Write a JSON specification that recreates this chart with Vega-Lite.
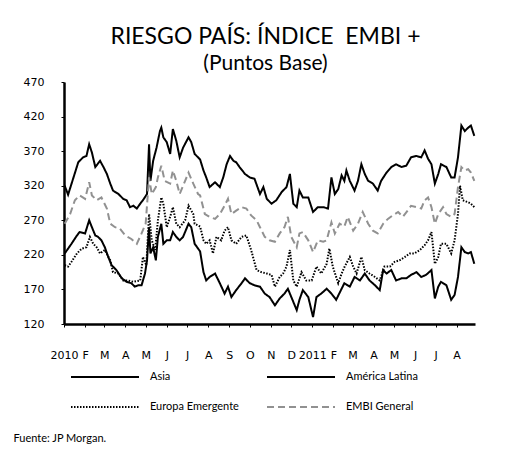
{
  "$schema": "https://vega.github.io/schema/vega-lite/v6.json",
  "width": 411,
  "height": 242,
  "autosize": {"type": "none"},
  "padding": {"left": 64, "top": 82, "right": 45, "bottom": 129},
  "background": "white",
  "title": {
    "text": "RIESGO PAÍS: ÍNDICE \u00a0EMBI +",
    "subtitle": "(Puntos Base)",
    "anchor": "middle",
    "offset": 2,
    "dx": -4,
    "font": "Lato",
    "fontSize": 23,
    "fontWeight": "normal",
    "color": "black",
    "subtitleFont": "Lato",
    "subtitleFontSize": 21,
    "subtitleColor": "black",
    "subtitlePadding": 4
  },
  "datasets": {
    "embi": [
      {"fecha":"2010-01-02","serie":"América Latina","pb":320},
      {"fecha":"2010-01-07","serie":"América Latina","pb":307},
      {"fecha":"2010-01-15","serie":"América Latina","pb":332},
      {"fecha":"2010-01-22","serie":"América Latina","pb":354},
      {"fecha":"2010-01-29","serie":"América Latina","pb":361},
      {"fecha":"2010-02-03","serie":"América Latina","pb":363},
      {"fecha":"2010-02-07","serie":"América Latina","pb":380},
      {"fecha":"2010-02-11","serie":"América Latina","pb":368},
      {"fecha":"2010-02-16","serie":"América Latina","pb":347},
      {"fecha":"2010-02-23","serie":"América Latina","pb":356},
      {"fecha":"2010-02-28","serie":"América Latina","pb":347},
      {"fecha":"2010-03-05","serie":"América Latina","pb":337},
      {"fecha":"2010-03-10","serie":"América Latina","pb":323},
      {"fecha":"2010-03-14","serie":"América Latina","pb":313},
      {"fecha":"2010-03-22","serie":"América Latina","pb":308},
      {"fecha":"2010-03-29","serie":"América Latina","pb":301},
      {"fecha":"2010-04-03","serie":"América Latina","pb":299},
      {"fecha":"2010-04-08","serie":"América Latina","pb":289},
      {"fecha":"2010-04-13","serie":"América Latina","pb":291},
      {"fecha":"2010-04-18","serie":"América Latina","pb":287},
      {"fecha":"2010-04-23","serie":"América Latina","pb":294},
      {"fecha":"2010-04-27","serie":"América Latina","pb":299},
      {"fecha":"2010-05-03","serie":"América Latina","pb":308},
      {"fecha":"2010-05-06","serie":"América Latina","pb":380},
      {"fecha":"2010-05-08","serie":"América Latina","pb":327},
      {"fecha":"2010-05-12","serie":"América Latina","pb":356},
      {"fecha":"2010-05-17","serie":"América Latina","pb":375},
      {"fecha":"2010-05-22","serie":"América Latina","pb":399},
      {"fecha":"2010-05-24","serie":"América Latina","pb":404},
      {"fecha":"2010-05-27","serie":"América Latina","pb":390},
      {"fecha":"2010-06-01","serie":"América Latina","pb":383},
      {"fecha":"2010-06-06","serie":"América Latina","pb":366},
      {"fecha":"2010-06-10","serie":"América Latina","pb":402},
      {"fecha":"2010-06-15","serie":"América Latina","pb":385},
      {"fecha":"2010-06-20","serie":"América Latina","pb":361},
      {"fecha":"2010-06-25","serie":"América Latina","pb":375},
      {"fecha":"2010-07-03","serie":"América Latina","pb":390},
      {"fecha":"2010-07-07","serie":"América Latina","pb":383},
      {"fecha":"2010-07-12","serie":"América Latina","pb":366},
      {"fecha":"2010-07-20","serie":"América Latina","pb":358},
      {"fecha":"2010-07-25","serie":"América Latina","pb":342},
      {"fecha":"2010-07-29","serie":"América Latina","pb":332},
      {"fecha":"2010-08-03","serie":"América Latina","pb":318},
      {"fecha":"2010-08-11","serie":"América Latina","pb":325},
      {"fecha":"2010-08-18","serie":"América Latina","pb":318},
      {"fecha":"2010-08-23","serie":"América Latina","pb":332},
      {"fecha":"2010-08-28","serie":"América Latina","pb":351},
      {"fecha":"2010-09-02","serie":"América Latina","pb":363},
      {"fecha":"2010-09-07","serie":"América Latina","pb":356},
      {"fecha":"2010-09-11","serie":"América Latina","pb":354},
      {"fecha":"2010-09-16","serie":"América Latina","pb":347},
      {"fecha":"2010-09-24","serie":"América Latina","pb":337},
      {"fecha":"2010-10-01","serie":"América Latina","pb":332},
      {"fecha":"2010-10-08","serie":"América Latina","pb":330},
      {"fecha":"2010-10-16","serie":"América Latina","pb":308},
      {"fecha":"2010-10-21","serie":"América Latina","pb":318},
      {"fecha":"2010-10-26","serie":"América Latina","pb":301},
      {"fecha":"2010-11-02","serie":"América Latina","pb":294},
      {"fecha":"2010-11-09","serie":"América Latina","pb":299},
      {"fecha":"2010-11-17","serie":"América Latina","pb":311},
      {"fecha":"2010-11-24","serie":"América Latina","pb":318},
      {"fecha":"2010-11-29","serie":"América Latina","pb":337},
      {"fecha":"2010-12-04","serie":"América Latina","pb":294},
      {"fecha":"2010-12-09","serie":"América Latina","pb":289},
      {"fecha":"2010-12-13","serie":"América Latina","pb":313},
      {"fecha":"2010-12-18","serie":"América Latina","pb":303},
      {"fecha":"2010-12-26","serie":"América Latina","pb":303},
      {"fecha":"2011-01-02","serie":"América Latina","pb":282},
      {"fecha":"2011-01-09","serie":"América Latina","pb":289},
      {"fecha":"2011-01-17","serie":"América Latina","pb":289},
      {"fecha":"2011-01-24","serie":"América Latina","pb":287},
      {"fecha":"2011-01-29","serie":"América Latina","pb":332},
      {"fecha":"2011-02-03","serie":"América Latina","pb":308},
      {"fecha":"2011-02-08","serie":"América Latina","pb":315},
      {"fecha":"2011-02-13","serie":"América Latina","pb":335},
      {"fecha":"2011-02-17","serie":"América Latina","pb":327},
      {"fecha":"2011-02-20","serie":"América Latina","pb":342},
      {"fecha":"2011-02-25","serie":"América Latina","pb":327},
      {"fecha":"2011-03-04","serie":"América Latina","pb":313},
      {"fecha":"2011-03-09","serie":"América Latina","pb":327},
      {"fecha":"2011-03-14","serie":"América Latina","pb":351},
      {"fecha":"2011-03-19","serie":"América Latina","pb":337},
      {"fecha":"2011-03-24","serie":"América Latina","pb":327},
      {"fecha":"2011-03-31","serie":"América Latina","pb":323},
      {"fecha":"2011-04-07","serie":"América Latina","pb":313},
      {"fecha":"2011-04-12","serie":"América Latina","pb":327},
      {"fecha":"2011-04-20","serie":"América Latina","pb":339},
      {"fecha":"2011-04-27","serie":"América Latina","pb":347},
      {"fecha":"2011-05-04","serie":"América Latina","pb":351},
      {"fecha":"2011-05-12","serie":"América Latina","pb":347},
      {"fecha":"2011-05-19","serie":"América Latina","pb":349},
      {"fecha":"2011-05-26","serie":"América Latina","pb":361},
      {"fecha":"2011-06-03","serie":"América Latina","pb":363},
      {"fecha":"2011-06-10","serie":"América Latina","pb":361},
      {"fecha":"2011-06-15","serie":"América Latina","pb":371},
      {"fecha":"2011-06-20","serie":"América Latina","pb":359},
      {"fecha":"2011-06-25","serie":"América Latina","pb":351},
      {"fecha":"2011-06-30","serie":"América Latina","pb":323},
      {"fecha":"2011-07-05","serie":"América Latina","pb":337},
      {"fecha":"2011-07-09","serie":"América Latina","pb":351},
      {"fecha":"2011-07-17","serie":"América Latina","pb":347},
      {"fecha":"2011-07-24","serie":"América Latina","pb":332},
      {"fecha":"2011-07-29","serie":"América Latina","pb":332},
      {"fecha":"2011-08-03","serie":"América Latina","pb":361},
      {"fecha":"2011-08-08","serie":"América Latina","pb":407},
      {"fecha":"2011-08-13","serie":"América Latina","pb":399},
      {"fecha":"2011-08-18","serie":"América Latina","pb":404},
      {"fecha":"2011-08-22","serie":"América Latina","pb":407},
      {"fecha":"2011-08-27","serie":"América Latina","pb":392},

      {"fecha":"2010-01-02","serie":"Asia","pb":222},
      {"fecha":"2010-01-07","serie":"Asia","pb":229},
      {"fecha":"2010-01-12","serie":"Asia","pb":236},
      {"fecha":"2010-01-20","serie":"Asia","pb":248},
      {"fecha":"2010-01-24","serie":"Asia","pb":253},
      {"fecha":"2010-02-01","serie":"Asia","pb":251},
      {"fecha":"2010-02-07","serie":"Asia","pb":270},
      {"fecha":"2010-02-11","serie":"Asia","pb":260},
      {"fecha":"2010-02-16","serie":"Asia","pb":248},
      {"fecha":"2010-02-20","serie":"Asia","pb":246},
      {"fecha":"2010-02-25","serie":"Asia","pb":241},
      {"fecha":"2010-03-02","serie":"Asia","pb":231},
      {"fecha":"2010-03-07","serie":"Asia","pb":217},
      {"fecha":"2010-03-12","serie":"Asia","pb":205},
      {"fecha":"2010-03-19","serie":"Asia","pb":198},
      {"fecha":"2010-03-27","serie":"Asia","pb":186},
      {"fecha":"2010-04-03","serie":"Asia","pb":181},
      {"fecha":"2010-04-10","serie":"Asia","pb":179},
      {"fecha":"2010-04-15","serie":"Asia","pb":174},
      {"fecha":"2010-04-20","serie":"Asia","pb":176},
      {"fecha":"2010-04-25","serie":"Asia","pb":176},
      {"fecha":"2010-04-30","serie":"Asia","pb":193},
      {"fecha":"2010-05-03","serie":"Asia","pb":212},
      {"fecha":"2010-05-06","serie":"Asia","pb":260},
      {"fecha":"2010-05-08","serie":"Asia","pb":222},
      {"fecha":"2010-05-12","serie":"Asia","pb":231},
      {"fecha":"2010-05-16","serie":"Asia","pb":212},
      {"fecha":"2010-05-19","serie":"Asia","pb":246},
      {"fecha":"2010-05-24","serie":"Asia","pb":265},
      {"fecha":"2010-05-27","serie":"Asia","pb":236},
      {"fecha":"2010-06-01","serie":"Asia","pb":241},
      {"fecha":"2010-06-06","serie":"Asia","pb":241},
      {"fecha":"2010-06-10","serie":"Asia","pb":253},
      {"fecha":"2010-06-15","serie":"Asia","pb":246},
      {"fecha":"2010-06-20","serie":"Asia","pb":241},
      {"fecha":"2010-06-25","serie":"Asia","pb":246},
      {"fecha":"2010-07-03","serie":"Asia","pb":265},
      {"fecha":"2010-07-07","serie":"Asia","pb":260},
      {"fecha":"2010-07-12","serie":"Asia","pb":236},
      {"fecha":"2010-07-20","serie":"Asia","pb":225},
      {"fecha":"2010-07-25","serie":"Asia","pb":195},
      {"fecha":"2010-07-29","serie":"Asia","pb":183},
      {"fecha":"2010-08-03","serie":"Asia","pb":188},
      {"fecha":"2010-08-11","serie":"Asia","pb":193},
      {"fecha":"2010-08-18","serie":"Asia","pb":179},
      {"fecha":"2010-08-25","serie":"Asia","pb":164},
      {"fecha":"2010-08-30","serie":"Asia","pb":174},
      {"fecha":"2010-09-04","serie":"Asia","pb":159},
      {"fecha":"2010-09-11","serie":"Asia","pb":169},
      {"fecha":"2010-09-19","serie":"Asia","pb":179},
      {"fecha":"2010-09-24","serie":"Asia","pb":186},
      {"fecha":"2010-10-01","serie":"Asia","pb":179},
      {"fecha":"2010-10-08","serie":"Asia","pb":176},
      {"fecha":"2010-10-16","serie":"Asia","pb":174},
      {"fecha":"2010-10-23","serie":"Asia","pb":164},
      {"fecha":"2010-10-30","serie":"Asia","pb":159},
      {"fecha":"2010-11-07","serie":"Asia","pb":147},
      {"fecha":"2010-11-14","serie":"Asia","pb":157},
      {"fecha":"2010-11-21","serie":"Asia","pb":164},
      {"fecha":"2010-11-26","serie":"Asia","pb":171},
      {"fecha":"2010-12-04","serie":"Asia","pb":152},
      {"fecha":"2010-12-09","serie":"Asia","pb":140},
      {"fecha":"2010-12-13","serie":"Asia","pb":155},
      {"fecha":"2010-12-18","serie":"Asia","pb":169},
      {"fecha":"2010-12-26","serie":"Asia","pb":159},
      {"fecha":"2011-01-02","serie":"Asia","pb":130},
      {"fecha":"2011-01-07","serie":"Asia","pb":159},
      {"fecha":"2011-01-14","serie":"Asia","pb":164},
      {"fecha":"2011-01-22","serie":"Asia","pb":171},
      {"fecha":"2011-01-29","serie":"Asia","pb":164},
      {"fecha":"2011-02-05","serie":"Asia","pb":155},
      {"fecha":"2011-02-13","serie":"Asia","pb":171},
      {"fecha":"2011-02-17","serie":"Asia","pb":179},
      {"fecha":"2011-02-25","serie":"Asia","pb":174},
      {"fecha":"2011-03-04","serie":"Asia","pb":188},
      {"fecha":"2011-03-12","serie":"Asia","pb":183},
      {"fecha":"2011-03-19","serie":"Asia","pb":193},
      {"fecha":"2011-03-26","serie":"Asia","pb":183},
      {"fecha":"2011-04-03","serie":"Asia","pb":176},
      {"fecha":"2011-04-10","serie":"Asia","pb":169},
      {"fecha":"2011-04-15","serie":"Asia","pb":198},
      {"fecha":"2011-04-20","serie":"Asia","pb":193},
      {"fecha":"2011-04-27","serie":"Asia","pb":198},
      {"fecha":"2011-05-04","serie":"Asia","pb":183},
      {"fecha":"2011-05-12","serie":"Asia","pb":186},
      {"fecha":"2011-05-19","serie":"Asia","pb":186},
      {"fecha":"2011-05-26","serie":"Asia","pb":191},
      {"fecha":"2011-06-03","serie":"Asia","pb":195},
      {"fecha":"2011-06-10","serie":"Asia","pb":188},
      {"fecha":"2011-06-17","serie":"Asia","pb":191},
      {"fecha":"2011-06-25","serie":"Asia","pb":198},
      {"fecha":"2011-06-30","serie":"Asia","pb":157},
      {"fecha":"2011-07-05","serie":"Asia","pb":174},
      {"fecha":"2011-07-09","serie":"Asia","pb":181},
      {"fecha":"2011-07-17","serie":"Asia","pb":176},
      {"fecha":"2011-07-24","serie":"Asia","pb":155},
      {"fecha":"2011-07-29","serie":"Asia","pb":162},
      {"fecha":"2011-08-03","serie":"Asia","pb":188},
      {"fecha":"2011-08-08","serie":"Asia","pb":231},
      {"fecha":"2011-08-13","serie":"Asia","pb":224},
      {"fecha":"2011-08-18","serie":"Asia","pb":222},
      {"fecha":"2011-08-22","serie":"Asia","pb":224},
      {"fecha":"2011-08-27","serie":"Asia","pb":207},

      {"fecha":"2010-01-02","serie":"Europa Emergente","pb":205},
      {"fecha":"2010-01-07","serie":"Europa Emergente","pb":203},
      {"fecha":"2010-01-12","serie":"Europa Emergente","pb":210},
      {"fecha":"2010-01-20","serie":"Europa Emergente","pb":222},
      {"fecha":"2010-01-27","serie":"Europa Emergente","pb":229},
      {"fecha":"2010-02-03","serie":"Europa Emergente","pb":231},
      {"fecha":"2010-02-08","serie":"Europa Emergente","pb":246},
      {"fecha":"2010-02-13","serie":"Europa Emergente","pb":236},
      {"fecha":"2010-02-18","serie":"Europa Emergente","pb":231},
      {"fecha":"2010-02-23","serie":"Europa Emergente","pb":222},
      {"fecha":"2010-03-02","serie":"Europa Emergente","pb":227},
      {"fecha":"2010-03-10","serie":"Europa Emergente","pb":212},
      {"fecha":"2010-03-14","serie":"Europa Emergente","pb":195},
      {"fecha":"2010-03-22","serie":"Europa Emergente","pb":193},
      {"fecha":"2010-03-29","serie":"Europa Emergente","pb":183},
      {"fecha":"2010-04-05","serie":"Europa Emergente","pb":183},
      {"fecha":"2010-04-13","serie":"Europa Emergente","pb":181},
      {"fecha":"2010-04-23","serie":"Europa Emergente","pb":183},
      {"fecha":"2010-04-27","serie":"Europa Emergente","pb":217},
      {"fecha":"2010-05-02","serie":"Europa Emergente","pb":205},
      {"fecha":"2010-05-06","serie":"Europa Emergente","pb":279},
      {"fecha":"2010-05-10","serie":"Europa Emergente","pb":241},
      {"fecha":"2010-05-15","serie":"Europa Emergente","pb":227},
      {"fecha":"2010-05-19","serie":"Europa Emergente","pb":270},
      {"fecha":"2010-05-24","serie":"Europa Emergente","pb":303},
      {"fecha":"2010-05-27","serie":"Europa Emergente","pb":294},
      {"fecha":"2010-06-01","serie":"Europa Emergente","pb":260},
      {"fecha":"2010-06-06","serie":"Europa Emergente","pb":275},
      {"fecha":"2010-06-10","serie":"Europa Emergente","pb":289},
      {"fecha":"2010-06-15","serie":"Europa Emergente","pb":265},
      {"fecha":"2010-06-20","serie":"Europa Emergente","pb":260},
      {"fecha":"2010-06-28","serie":"Europa Emergente","pb":270},
      {"fecha":"2010-07-03","serie":"Europa Emergente","pb":291},
      {"fecha":"2010-07-10","serie":"Europa Emergente","pb":279},
      {"fecha":"2010-07-12","serie":"Europa Emergente","pb":265},
      {"fecha":"2010-07-20","serie":"Europa Emergente","pb":261},
      {"fecha":"2010-07-25","serie":"Europa Emergente","pb":241},
      {"fecha":"2010-07-29","serie":"Europa Emergente","pb":236},
      {"fecha":"2010-08-03","serie":"Europa Emergente","pb":241},
      {"fecha":"2010-08-08","serie":"Europa Emergente","pb":222},
      {"fecha":"2010-08-13","serie":"Europa Emergente","pb":246},
      {"fecha":"2010-08-20","serie":"Europa Emergente","pb":241},
      {"fecha":"2010-08-25","serie":"Europa Emergente","pb":255},
      {"fecha":"2010-08-30","serie":"Europa Emergente","pb":260},
      {"fecha":"2010-09-04","serie":"Europa Emergente","pb":241},
      {"fecha":"2010-09-11","serie":"Europa Emergente","pb":236},
      {"fecha":"2010-09-19","serie":"Europa Emergente","pb":246},
      {"fecha":"2010-09-26","serie":"Europa Emergente","pb":248},
      {"fecha":"2010-10-03","serie":"Europa Emergente","pb":227},
      {"fecha":"2010-10-11","serie":"Europa Emergente","pb":198},
      {"fecha":"2010-10-18","serie":"Europa Emergente","pb":195},
      {"fecha":"2010-10-26","serie":"Europa Emergente","pb":193},
      {"fecha":"2010-11-02","serie":"Europa Emergente","pb":191},
      {"fecha":"2010-11-07","serie":"Europa Emergente","pb":174},
      {"fecha":"2010-11-14","serie":"Europa Emergente","pb":188},
      {"fecha":"2010-11-19","serie":"Europa Emergente","pb":193},
      {"fecha":"2010-11-24","serie":"Europa Emergente","pb":203},
      {"fecha":"2010-11-29","serie":"Europa Emergente","pb":227},
      {"fecha":"2010-12-04","serie":"Europa Emergente","pb":183},
      {"fecha":"2010-12-09","serie":"Europa Emergente","pb":174},
      {"fecha":"2010-12-16","serie":"Europa Emergente","pb":195},
      {"fecha":"2010-12-23","serie":"Europa Emergente","pb":183},
      {"fecha":"2010-12-31","serie":"Europa Emergente","pb":183},
      {"fecha":"2011-01-07","serie":"Europa Emergente","pb":203},
      {"fecha":"2011-01-14","serie":"Europa Emergente","pb":193},
      {"fecha":"2011-01-22","serie":"Europa Emergente","pb":207},
      {"fecha":"2011-01-26","serie":"Europa Emergente","pb":229},
      {"fecha":"2011-01-31","serie":"Europa Emergente","pb":203},
      {"fecha":"2011-02-08","serie":"Europa Emergente","pb":179},
      {"fecha":"2011-02-13","serie":"Europa Emergente","pb":193},
      {"fecha":"2011-02-17","serie":"Europa Emergente","pb":202},
      {"fecha":"2011-02-25","serie":"Europa Emergente","pb":217},
      {"fecha":"2011-03-02","serie":"Europa Emergente","pb":203},
      {"fecha":"2011-03-07","serie":"Europa Emergente","pb":193},
      {"fecha":"2011-03-14","serie":"Europa Emergente","pb":217},
      {"fecha":"2011-03-19","serie":"Europa Emergente","pb":198},
      {"fecha":"2011-03-26","serie":"Europa Emergente","pb":193},
      {"fecha":"2011-04-03","serie":"Europa Emergente","pb":188},
      {"fecha":"2011-04-10","serie":"Europa Emergente","pb":183},
      {"fecha":"2011-04-17","serie":"Europa Emergente","pb":203},
      {"fecha":"2011-04-25","serie":"Europa Emergente","pb":203},
      {"fecha":"2011-05-02","serie":"Europa Emergente","pb":210},
      {"fecha":"2011-05-09","serie":"Europa Emergente","pb":212},
      {"fecha":"2011-05-17","serie":"Europa Emergente","pb":217},
      {"fecha":"2011-05-24","serie":"Europa Emergente","pb":222},
      {"fecha":"2011-05-31","serie":"Europa Emergente","pb":222},
      {"fecha":"2011-06-08","serie":"Europa Emergente","pb":227},
      {"fecha":"2011-06-15","serie":"Europa Emergente","pb":234},
      {"fecha":"2011-06-20","serie":"Europa Emergente","pb":241},
      {"fecha":"2011-06-25","serie":"Europa Emergente","pb":253},
      {"fecha":"2011-06-30","serie":"Europa Emergente","pb":207},
      {"fecha":"2011-07-05","serie":"Europa Emergente","pb":217},
      {"fecha":"2011-07-09","serie":"Europa Emergente","pb":236},
      {"fecha":"2011-07-17","serie":"Europa Emergente","pb":236},
      {"fecha":"2011-07-24","serie":"Europa Emergente","pb":222},
      {"fecha":"2011-07-29","serie":"Europa Emergente","pb":241},
      {"fecha":"2011-08-03","serie":"Europa Emergente","pb":279},
      {"fecha":"2011-08-06","serie":"Europa Emergente","pb":320},
      {"fecha":"2011-08-10","serie":"Europa Emergente","pb":299},
      {"fecha":"2011-08-18","serie":"Europa Emergente","pb":296},
      {"fecha":"2011-08-22","serie":"Europa Emergente","pb":294},
      {"fecha":"2011-08-27","serie":"Europa Emergente","pb":289},

      {"fecha":"2010-01-02","serie":"EMBI General","pb":265},
      {"fecha":"2010-01-10","serie":"EMBI General","pb":279},
      {"fecha":"2010-01-17","serie":"EMBI General","pb":299},
      {"fecha":"2010-01-24","serie":"EMBI General","pb":306},
      {"fecha":"2010-02-01","serie":"EMBI General","pb":301},
      {"fecha":"2010-02-07","serie":"EMBI General","pb":325},
      {"fecha":"2010-02-11","serie":"EMBI General","pb":306},
      {"fecha":"2010-02-18","serie":"EMBI General","pb":299},
      {"fecha":"2010-02-25","serie":"EMBI General","pb":303},
      {"fecha":"2010-03-05","serie":"EMBI General","pb":287},
      {"fecha":"2010-03-10","serie":"EMBI General","pb":265},
      {"fecha":"2010-03-17","serie":"EMBI General","pb":260},
      {"fecha":"2010-03-24","serie":"EMBI General","pb":258},
      {"fecha":"2010-04-01","serie":"EMBI General","pb":248},
      {"fecha":"2010-04-10","serie":"EMBI General","pb":243},
      {"fecha":"2010-04-18","serie":"EMBI General","pb":236},
      {"fecha":"2010-04-25","serie":"EMBI General","pb":251},
      {"fecha":"2010-05-01","serie":"EMBI General","pb":265},
      {"fecha":"2010-05-06","serie":"EMBI General","pb":332},
      {"fecha":"2010-05-10","serie":"EMBI General","pb":308},
      {"fecha":"2010-05-16","serie":"EMBI General","pb":318},
      {"fecha":"2010-05-19","serie":"EMBI General","pb":332},
      {"fecha":"2010-05-24","serie":"EMBI General","pb":349},
      {"fecha":"2010-05-29","serie":"EMBI General","pb":327},
      {"fecha":"2010-06-06","serie":"EMBI General","pb":323},
      {"fecha":"2010-06-10","serie":"EMBI General","pb":342},
      {"fecha":"2010-06-15","serie":"EMBI General","pb":327},
      {"fecha":"2010-06-20","serie":"EMBI General","pb":308},
      {"fecha":"2010-06-28","serie":"EMBI General","pb":327},
      {"fecha":"2010-07-03","serie":"EMBI General","pb":339},
      {"fecha":"2010-07-10","serie":"EMBI General","pb":323},
      {"fecha":"2010-07-17","serie":"EMBI General","pb":308},
      {"fecha":"2010-07-20","serie":"EMBI General","pb":306},
      {"fecha":"2010-07-27","serie":"EMBI General","pb":279},
      {"fecha":"2010-08-03","serie":"EMBI General","pb":275},
      {"fecha":"2010-08-11","serie":"EMBI General","pb":272},
      {"fecha":"2010-08-18","serie":"EMBI General","pb":279},
      {"fecha":"2010-08-25","serie":"EMBI General","pb":291},
      {"fecha":"2010-08-30","serie":"EMBI General","pb":301},
      {"fecha":"2010-09-04","serie":"EMBI General","pb":279},
      {"fecha":"2010-09-11","serie":"EMBI General","pb":284},
      {"fecha":"2010-09-19","serie":"EMBI General","pb":289},
      {"fecha":"2010-09-26","serie":"EMBI General","pb":287},
      {"fecha":"2010-10-03","serie":"EMBI General","pb":277},
      {"fecha":"2010-10-11","serie":"EMBI General","pb":270},
      {"fecha":"2010-10-16","serie":"EMBI General","pb":260},
      {"fecha":"2010-10-23","serie":"EMBI General","pb":246},
      {"fecha":"2010-10-30","serie":"EMBI General","pb":241},
      {"fecha":"2010-11-07","serie":"EMBI General","pb":239},
      {"fecha":"2010-11-14","serie":"EMBI General","pb":251},
      {"fecha":"2010-11-21","serie":"EMBI General","pb":260},
      {"fecha":"2010-11-26","serie":"EMBI General","pb":275},
      {"fecha":"2010-12-01","serie":"EMBI General","pb":246},
      {"fecha":"2010-12-09","serie":"EMBI General","pb":231},
      {"fecha":"2010-12-13","serie":"EMBI General","pb":251},
      {"fecha":"2010-12-18","serie":"EMBI General","pb":253},
      {"fecha":"2010-12-26","serie":"EMBI General","pb":241},
      {"fecha":"2011-01-02","serie":"EMBI General","pb":224},
      {"fecha":"2011-01-09","serie":"EMBI General","pb":241},
      {"fecha":"2011-01-17","serie":"EMBI General","pb":239},
      {"fecha":"2011-01-22","serie":"EMBI General","pb":241},
      {"fecha":"2011-01-29","serie":"EMBI General","pb":267},
      {"fecha":"2011-02-03","serie":"EMBI General","pb":251},
      {"fecha":"2011-02-10","serie":"EMBI General","pb":265},
      {"fecha":"2011-02-17","serie":"EMBI General","pb":261},
      {"fecha":"2011-02-22","serie":"EMBI General","pb":275},
      {"fecha":"2011-03-02","serie":"EMBI General","pb":255},
      {"fecha":"2011-03-09","serie":"EMBI General","pb":265},
      {"fecha":"2011-03-16","serie":"EMBI General","pb":282},
      {"fecha":"2011-03-24","serie":"EMBI General","pb":265},
      {"fecha":"2011-03-31","serie":"EMBI General","pb":255},
      {"fecha":"2011-04-07","serie":"EMBI General","pb":251},
      {"fecha":"2011-04-15","serie":"EMBI General","pb":265},
      {"fecha":"2011-04-22","serie":"EMBI General","pb":272},
      {"fecha":"2011-04-29","serie":"EMBI General","pb":277},
      {"fecha":"2011-05-07","serie":"EMBI General","pb":282},
      {"fecha":"2011-05-14","serie":"EMBI General","pb":275},
      {"fecha":"2011-05-21","serie":"EMBI General","pb":284},
      {"fecha":"2011-05-26","serie":"EMBI General","pb":291},
      {"fecha":"2011-06-03","serie":"EMBI General","pb":289},
      {"fecha":"2011-06-10","serie":"EMBI General","pb":287},
      {"fecha":"2011-06-15","serie":"EMBI General","pb":299},
      {"fecha":"2011-06-20","serie":"EMBI General","pb":303},
      {"fecha":"2011-06-25","serie":"EMBI General","pb":289},
      {"fecha":"2011-06-30","serie":"EMBI General","pb":265},
      {"fecha":"2011-07-05","serie":"EMBI General","pb":279},
      {"fecha":"2011-07-12","serie":"EMBI General","pb":289},
      {"fecha":"2011-07-17","serie":"EMBI General","pb":279},
      {"fecha":"2011-07-24","serie":"EMBI General","pb":275},
      {"fecha":"2011-07-29","serie":"EMBI General","pb":279},
      {"fecha":"2011-08-03","serie":"EMBI General","pb":318},
      {"fecha":"2011-08-08","serie":"EMBI General","pb":347},
      {"fecha":"2011-08-13","serie":"EMBI General","pb":342},
      {"fecha":"2011-08-18","serie":"EMBI General","pb":344},
      {"fecha":"2011-08-22","serie":"EMBI General","pb":339},
      {"fecha":"2011-08-27","serie":"EMBI General","pb":327}
    ]
  },
  "data": {"name": "embi"},
  "mark": {"type": "line", "strokeWidth": 2},
  "encoding": {
    "x": {
      "field": "fecha",
      "type": "temporal",
      "scale": {
        "type": "utc",
        "domain": [
          {"year": 2010, "month": 1, "date": 1, "utc": true},
          {"year": 2011, "month": 8, "date": 28, "utc": true}
        ]
      },
      "axis": {
        "title": "Fuente: JP Morgan.",
        "titleX": -51,
        "titleY": 114,
        "titleAlign": "left",
        "titleBaseline": "middle",
        "titleFont": "Lato",
        "titleFontSize": 11,
        "titleFontWeight": "normal",
        "titleColor": "black",
        "grid": false,
        "domainColor": "black",
        "domainWidth": 2.5,
        "ticks": true,
        "tickColor": "black",
        "tickSize": 3,
        "tickWidth": 1,
        "tickCount": {"interval": "month", "step": 1},
        "labelExpr": "utcmonth(datum.value) == 0 ? utcFormat(datum.value, '%Y') : ['E','F','M','A','M','J','J','A','S','O','N','D'][utcmonth(datum.value)]",
        "labelFont": "DejaVu Sans",
        "labelFontSize": 11,
        "labelColor": "black",
        "labelPadding": 22,
        "labelAlign": "center",
        "labelOverlap": false,
        "labelFlush": false,
        "labelBound": false
      }
    },
    "y": {
      "field": "pb",
      "type": "quantitative",
      "scale": {"domain": [120, 470], "nice": false, "zero": false},
      "axis": {
        "title": null,
        "values": [120, 170, 220, 270, 320, 370, 420, 470],
        "grid": false,
        "domainColor": "black",
        "domainWidth": 2.5,
        "tickColor": "black",
        "tickSize": 3,
        "tickWidth": 1,
        "labelFont": "DejaVu Sans",
        "labelFontSize": 11,
        "labelColor": "black",
        "labelPadding": 17
      }
    },
    "color": {
      "field": "serie",
      "type": "nominal",
      "scale": {
        "domain": ["Asia", "América Latina", "Europa Emergente", "EMBI General"],
        "range": ["#000000", "#000000", "#000000", "#919191"]
      },
      "legend": {
        "title": null,
        "orient": "none",
        "legendX": 6,
        "legendY": 289,
        "direction": "horizontal",
        "columns": 2,
        "columnPadding": 27,
        "rowPadding": 18,
        "padding": 0,
        "symbolType": "stroke",
        "symbolSize": 4624,
        "symbolStrokeWidth": 2,
        "clipHeight": 12,
        "labelOffset": 10,
        "labelFont": "Lato",
        "labelFontSize": 11,
        "labelColor": "black"
      }
    },
    "strokeDash": {
      "field": "serie",
      "type": "nominal",
      "scale": {
        "domain": ["Asia", "América Latina", "Europa Emergente", "EMBI General"],
        "range": [[1, 0], [1, 0], [1.5, 1.5], [7, 4]]
      },
      "legend": {
        "title": null,
        "orient": "none",
        "legendX": 6,
        "legendY": 289,
        "direction": "horizontal",
        "columns": 2,
        "columnPadding": 27,
        "rowPadding": 18,
        "padding": 0,
        "symbolType": "stroke",
        "symbolSize": 4624,
        "symbolStrokeWidth": 2,
        "clipHeight": 12,
        "labelOffset": 10,
        "labelFont": "Lato",
        "labelFontSize": 11,
        "labelColor": "black"
      }
    }
  },
  "config": {"view": {"stroke": null}}
}
